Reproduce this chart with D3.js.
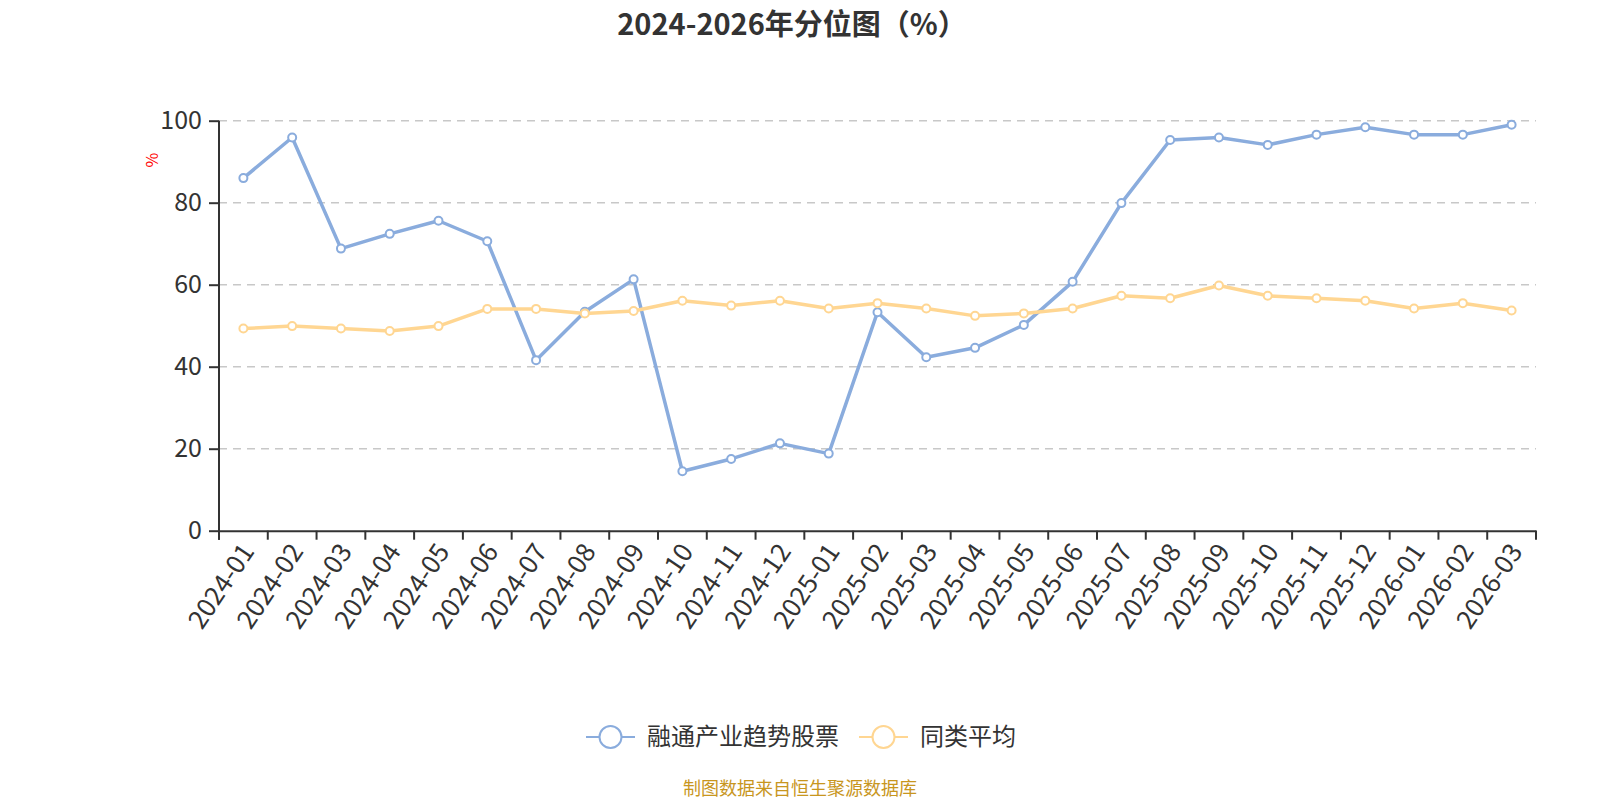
<!DOCTYPE html>
<html>
<head>
<meta charset="utf-8">
<script src="https://cdn.jsdelivr.net/npm/d3@7"></script>
<style>
  body { margin: 0; background: #fff; }
  svg { display: block; font-family: "Noto Sans CJK SC", "Noto Sans", sans-serif; }
</style>
</head>
<body>
<div class="d3Chart"></div>
<script>
// 月份
var months = [
  "2024-01", "2024-02", "2024-03", "2024-04", "2024-05", "2024-06",
  "2024-07", "2024-08", "2024-09", "2024-10", "2024-11", "2024-12",
  "2025-01", "2025-02", "2025-03", "2025-04", "2025-05", "2025-06",
  "2025-07", "2025-08", "2025-09", "2025-10", "2025-11", "2025-12",
  "2026-01", "2026-02", "2026-03"
];
// 融通产业趋势股票
var fundValues = [
  86.0, 95.9, 68.8, 72.4, 75.6, 70.6, 41.6, 53.4, 61.3, 14.5,
  17.5, 21.3, 18.8, 53.3, 42.3, 44.6, 50.2, 60.7, 79.9, 95.3,
  95.9, 94.1, 96.6, 98.4, 96.6, 96.6, 99.0
];
// 同类平均
var avgValues = [
  49.3, 49.9, 49.3, 48.7, 49.9, 54.1, 54.1, 53.0, 53.6, 56.1,
  54.9, 56.1, 54.2, 55.5, 54.2, 52.4, 53.0, 54.2, 57.3, 56.7,
  59.8, 57.3, 56.7, 56.1, 54.2, 55.5, 53.7
];
var seriesNames = ["融通产业趋势股票", "同类平均"];
var yTicks = [0, 20, 40, 60, 80, 100];

var width = 1600;
var height = 800;
var plotLeft = 219, plotRight = 1536, plotTop = 120.7, plotBottom = 530.7;
var colors = ["#8aacdd", "#ffd692"];

var svg = d3
  .select(".d3Chart")
  .append("svg")
  .attr("width", width)
  .attr("height", height);

// 标题
svg.append("text")
  .attr("x", 792)
  .attr("y", 35)
  .attr("text-anchor", "middle")
  .attr("font-size", 29)
  .attr("font-weight", "bold")
  .attr("fill", "#333")
  .text("2024-2026年分位图（%）");

// 比例尺
var x = d3.scaleBand().domain(months).range([plotLeft, plotRight]);
var y = d3.scaleLinear().domain([0, 100]).range([plotBottom, plotTop]);

// 网格线
svg.append("g")
  .selectAll("line")
  .data(yTicks.filter((d) => d > 0))
  .enter()
  .append("line")
  .attr("x1", plotLeft)
  .attr("x2", plotRight)
  .attr("y1", (d) => y(d))
  .attr("y2", (d) => y(d))
  .attr("stroke", "#c8c8c8")
  .attr("stroke-width", 1.5)
  .attr("stroke-dasharray", "8,6");

// y 轴
var yAxis = svg.append("g")
  .attr("transform", `translate(${plotLeft},0)`)
  .call(d3.axisLeft(y).tickValues(yTicks).tickSize(10).tickSizeOuter(0).tickPadding(7));
yAxis.select(".domain")
  .attr("d", `M0,${plotTop}V${plotBottom + 9}`)
  .attr("stroke", "#333").attr("stroke-width", 2);
yAxis.selectAll(".tick line").attr("stroke", "#333").attr("stroke-width", 2);
yAxis.selectAll(".tick text")
  .attr("font-size", 25)
  .attr("fill", "#333")
  .attr("font-family", "'Noto Sans CJK SC', sans-serif");

// x 轴
var xAxis = svg.append("g")
  .attr("transform", `translate(0,${plotBottom})`)
  .call(d3.axisBottom(x).tickSize(0).tickSizeOuter(0));
xAxis.select(".domain").attr("stroke", "#333").attr("stroke-width", 2);
xAxis.selectAll(".tick text")
  .attr("font-size", 26)
  .attr("fill", "#333")
  .attr("font-family", "'Noto Sans CJK SC', sans-serif")
  .attr("text-anchor", "end")
  .attr("dy", "0.35em")
  .attr("transform", "translate(2,14) rotate(-56)");

// 类目边界刻度
svg.append("g")
  .selectAll("line")
  .data(months.concat(["end"]))
  .enter()
  .append("line")
  .attr("x1", (d, i) => plotLeft + i * x.bandwidth())
  .attr("x2", (d, i) => plotLeft + i * x.bandwidth())
  .attr("y1", plotBottom)
  .attr("y2", plotBottom + 9)
  .attr("stroke", "#333")
  .attr("stroke-width", 2);

// 单位
svg.append("text")
  .attr("transform", "translate(158,160) rotate(-90)")
  .attr("text-anchor", "middle")
  .attr("font-size", 16)
  .attr("fill", "#ff0000")
  .text("%");

// 折线
var line = d3.line()
  .x((d, i) => x(months[i]) + x.bandwidth() / 2)
  .y((d) => y(d));

[fundValues, avgValues].forEach(function (vals, k) {
  var g = svg.append("g");
  g.append("path")
    .datum(vals)
    .attr("fill", "none")
    .attr("stroke", colors[k])
    .attr("stroke-width", 3.5)
    .attr("stroke-linejoin", "round")
    .attr("d", line);
  g.selectAll("circle")
    .data(vals)
    .enter()
    .append("circle")
    .attr("cx", (d, i) => x(months[i]) + x.bandwidth() / 2)
    .attr("cy", (d) => y(d))
    .attr("r", 4)
    .attr("fill", "#fff")
    .attr("stroke", colors[k])
    .attr("stroke-width", 2);
});

// 图例
var legendItems = [
  { name: seriesNames[0], x: 586, color: colors[0] },
  { name: seriesNames[1], x: 859, color: colors[1] }
];
var legend = svg.append("g").attr("transform", "translate(0,737)");
legendItems.forEach(function (d) {
  legend.append("line")
    .attr("x1", d.x).attr("x2", d.x + 49)
    .attr("y1", 0).attr("y2", 0)
    .attr("stroke", d.color)
    .attr("stroke-width", 2);
  legend.append("circle")
    .attr("cx", d.x + 24.5).attr("cy", 0).attr("r", 11)
    .attr("fill", "#fff")
    .attr("stroke", d.color)
    .attr("stroke-width", 2);
  legend.append("text")
    .attr("x", d.x + 61).attr("y", 0)
    .attr("dy", "0.35em")
    .attr("font-size", 24)
    .attr("fill", "#333")
    .text(d.name);
});

// 数据来源
svg.append("text")
  .attr("x", 800)
  .attr("y", 795)
  .attr("text-anchor", "middle")
  .attr("font-size", 18)
  .attr("fill", "#c8961e")
  .text("制图数据来自恒生聚源数据库");
</script>
</body>
</html>
